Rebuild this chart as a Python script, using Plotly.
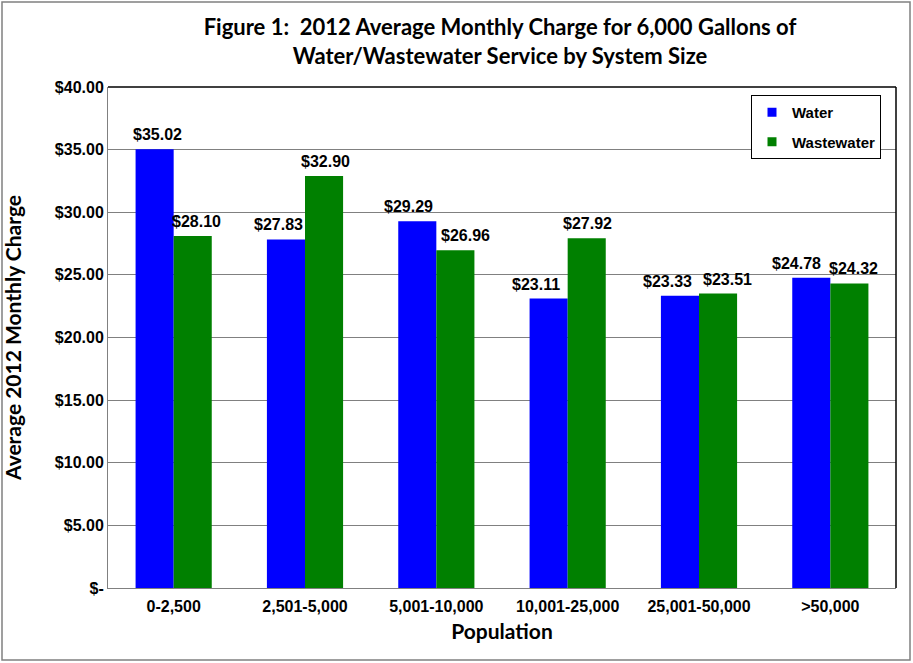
import plotly.graph_objects as go

categories = ["0-2,500", "2,501-5,000", "5,001-10,000", "10,001-25,000", "25,001-50,000", ">50,000"]
water = [35.02, 27.83, 29.29, 23.11, 23.33, 24.78]
wastewater = [28.10, 32.90, 26.96, 27.92, 23.51, 24.32]
tick_vals = [0, 5, 10, 15, 20, 25, 30, 35, 40]
tick_text = ["$-", "$5.00", "$10.00", "$15.00", "$20.00", "$25.00", "$30.00", "$35.00", "$40.00"]

# label nudges (pixels) mimicking the original's label placement to avoid overlaps
water_label_nudge = [3, -7, -9, -13, -12, -15]
wastewater_label_nudge = [4, 1, 10, 1, 9, 4]

W, H = 913, 663
ml, mr, mt, mb = 108, 17, 87, 75
pw, ph = W - ml - mr, H - mt - mb
bargap = 0.42
half_bar = pw / len(categories) * (1 - bargap) / 4  # offset of each bar centre from group centre

lab_font = dict(family="Liberation Sans, Arial", size=16, color="black", weight="bold")
tick_font = dict(family="Liberation Sans, Arial", size=16, color="black", weight="bold")
cal_font = dict(family="Lato, Open Sans", size=21, color="black", weight="bold")

fig = go.Figure()
fig.add_trace(go.Bar(name="Water", x=categories, y=water, marker_color="#0000FF",
                     marker_line_width=0, showlegend=False))
fig.add_trace(go.Bar(name="Wastewater", x=categories, y=wastewater, marker_color="#008000",
                     marker_line_width=0, showlegend=False))
# legend entries with small square keys
fig.add_trace(go.Scatter(name="Water", x=[None], y=[None], mode="markers", legendgroup="w",
                         marker=dict(symbol="square", size=9, color="#0000FF")))
fig.add_trace(go.Scatter(name="Wastewater", x=[None], y=[None], mode="markers", legendgroup="ww",
                         marker=dict(symbol="square", size=9, color="#008000")))

annotations = []
for cat, v, n in zip(categories, water, water_label_nudge):
    annotations.append(dict(x=cat, y=v, xref="x", yref="y", text=f"${v:.2f}", showarrow=False,
                            xanchor="center", yanchor="bottom", xshift=-half_bar + n, yshift=4,
                            font=lab_font))
for cat, v, n in zip(categories, wastewater, wastewater_label_nudge):
    annotations.append(dict(x=cat, y=v, xref="x", yref="y", text=f"${v:.2f}", showarrow=False,
                            xanchor="center", yanchor="bottom", xshift=half_bar + n, yshift=4,
                            font=lab_font))

fig.update_layout(
    width=W, height=H,
    margin=dict(l=ml, r=mr, t=mt, b=mb, autoexpand=False),
    paper_bgcolor="white", plot_bgcolor="white",
    barmode="group", bargap=bargap, bargroupgap=0,
    title=dict(text="Figure 1:  2012 Average Monthly Charge for 6,000 Gallons of<br>Water/Wastewater Service by System Size",
               x=500 / W, xanchor="center", y=1 - 35 / H, yanchor="middle",
               font=dict(family="Lato, Open Sans", size=22, color="black", weight="bold")),
    legend=dict(x=(751 - ml) / pw, y=1 - (95 - mt) / ph, xanchor="left", yanchor="top",
                bordercolor="black", borderwidth=1, bgcolor="white",
                font=dict(family="Liberation Sans, Arial", size=15, color="black", weight="bold"),
                itemwidth=30, traceorder="grouped", tracegroupgap=7),
    xaxis=dict(showline=True, linecolor="#808080", linewidth=1, automargin=False,
               tickfont=tick_font, ticks="", ticklabelstandoff=4,
               title=dict(text="Population", standoff=10, font=cal_font)),
    yaxis=dict(range=[0, 40], tickvals=tick_vals, ticktext=tick_text, automargin=False,
               showgrid=True, gridcolor="#808080", gridwidth=1, zeroline=False,
               showline=True, linecolor="#808080", linewidth=1,
               tickfont=tick_font, ticks="", ticklen=0,
               title=dict(text="Average 2012 Monthly Charge", standoff=30, font=cal_font)),
    annotations=annotations,
    shapes=[
        dict(type="line", xref="paper", yref="paper", x0=0, x1=1, y0=1, y1=1,
             line=dict(color="black", width=1.5)),
        dict(type="line", xref="paper", yref="paper", x0=1, x1=1, y0=0, y1=1,
             line=dict(color="black", width=1.5)),
        dict(type="rect", xref="paper", yref="paper",
             x0=(2 - ml) / pw, x1=(910 - ml) / pw, y0=(588 - 660) / ph, y1=(588 - 2) / ph,
             line=dict(color="#808080", width=1.5), layer="below"),
    ],
)

fig.write_html("out.html", config={"displayModeBar": False},
               post_script="document.body.style.margin='0';")
